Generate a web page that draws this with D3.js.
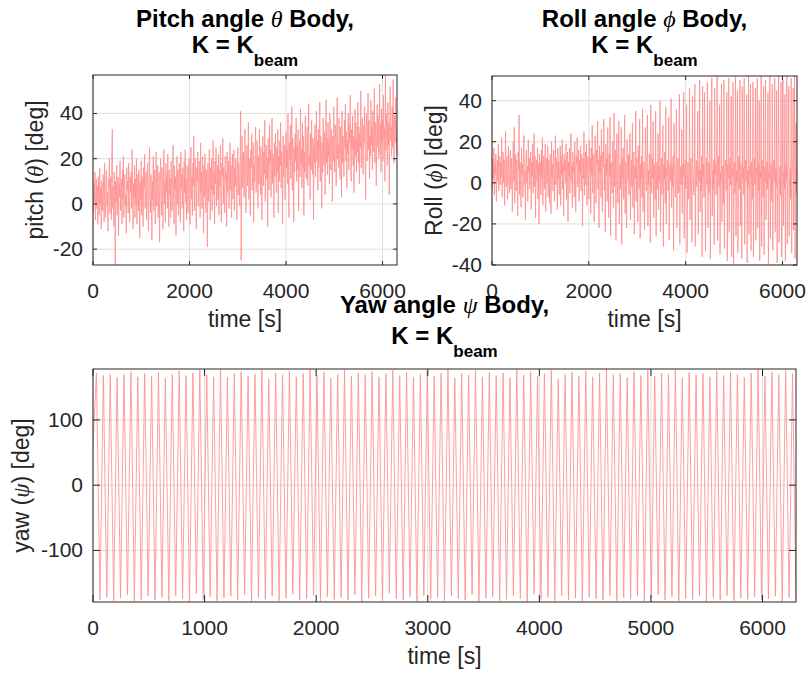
<!DOCTYPE html>
<html>
<head>
<meta charset="utf-8">
<script src="https://cdn.jsdelivr.net/npm/d3@7"></script>
<style>
    body { margin: 0; background: #fff; }
    svg text { font-family: "Liberation Sans", Arial, Helvetica, sans-serif; }
    .tick-label { font-size: 21px; fill: #262626; }
    .axis-label { font-size: 23px; fill: #262626; }
    .chart-title { font-size: 24px; font-weight: bold; fill: #000; }
    .greek { font-family: "Liberation Serif", "DejaVu Serif", serif; font-style: italic; font-weight: normal; }
</style>
</head>
<body>
<div id="chart-area"></div>
<script>

// ======= Data =======//
// every series is sampled evenly from 0 s to timeEnd
var timeEnd = 6300;

var pitchValues = [
    5, -4, 9, 1, 14, -7, 6, 11, -2, 8, -9, 12, 3, -5, 16, 0, 7, -11, 10, 4,
    -3, 13, 6, -8, 18, 2, -6, 9, 15, -1, 5, -12, 11, 7, 20, -4, 3, 12, -7, 22,
    33, -2, 8, -10, 14, 4, -27, 10, 1, 17, -5, 6, 12, -14, 9, 3, 19, -3, 7, 11,
    -9, 15, 2, 21, -6, 8, 13, -1, 4, -13, 16, 6, 10, -4, 18, 1, -8, 12, 5, 14,
    -2, 24, 7, -11, 9, 3, 17, -6, 11, 0, 20, -9, 6, 13, -3, 15, 8, -15, 10, 2,
    19, -5, 12, 4, -10, 16, 7, 22, -2, 9, 14, -7, 5, 18, 1, -12, 11, 25, 3, -4,
    13, 8, -16, 10, 2, 21, -3, 15, 6, -9, 12, 23, -1, 7, 17, -6, 4, 14, -17, 9,
    20, 3, -5, 16, 8, -11, 12, 24, 0, 10, -8, 18, 5, 13, -2, 22, 7, -10, 15, 4,
    11, -6, 19, 9, -3, 14, 26, 2, -9, 17, 6, 12, -14, 8, 21, 0, 15, -5, 10, 18,
    3, -8, 23, 7, 13, -2, 16, 10, -12, 19, 5, 24, 1, 11, -7, 17, 9, -4, 14, 20,
    6, -9, 15, 25, 2, 12, -5, 18, 8, 30, -3, 13, 20, 4, -11, 16, 10, 23, -1, 7,
    19, 11, -6, 27, 5, 14, -2, 21, 9, -13, 17, 3, 22, 12, -4, 15, 8, -19, 18, 10,
    1, 24, 13, -7, 16, 6, 20, -3, 11, 28, 4, 14, -9, 19, 9, 25, -1, 12, 17, 2,
    22, -5, 15, 8, 26, 3, -8, 18, 12, 29, 0, 16, 7, -4, 21, 10, 14, -10, 23, 5,
    13, 19, -2, 11, 27, 6, 17, -6, 14, 22, 2, 9, 24, -3, 16, 8, 20, 11, -7, 15,
    25, 4, 18, 10, -1, 21, 41, -25, 12, 30, 7, 15, 23, 3, 19, 33, 9, -4, 17, 26,
    8, 14, 36, 2, 20, 11, -5, 24, 16, 31, 6, 13, 27, -8, 18, 10, 22, 34, 5, 15,
    28, 12, -2, 21, 9, 33, 17, 4, 25, 14, -7, 19, 30, 8, 23, 13, 37, 1, 16, 26,
    11, 20, -10, 29, 15, 6, 35, 18, 24, 3, 13, 38, 9, 22, 16, -6, 27, 12, 31, 19,
    5, 25, 14, 33, -4, 21, 10, 28, 17, 36, 7, 23, 15, -9, 30, 12, 19, 26, 2, 18,
    32, 16, 24, 9, 40, 13, -6, 27, 20, 35, 11, 22, 43, 6, 29, 17, -8, 25, 14, 31,
    19, 38, 10, 26, 15, 33, -3, 21, 28, 12, 42, 18, 24, 7, 36, 16, 30, -5, 23, 14,
    39, 20, 11, 27, 34, 8, 25, 44, 17, 22, 2, 31, 15, 37, 21, 13, 29, -7, 26, 18,
    35, 12, 24, 41, 19, 28, 6, 33, 16, 23, 45, 10, 30, 20, -2, 27, 14, 38, 22, 17,
    32, 4, 25, 46, 18, 29, 13, 36, 21, 27, 9, 40, 24, 15, 33, 26, 1, 30, 19, 43,
    22, 14, 35, 27, 8, 31, 47, 20, 26, 16, 38, 23, 11, 34, 28, 3, 41, 18, 30, 24,
    12, 37, 25, 44, 19, 32, 7, 28, 22, 40, 15, 35, 27, 48, 20, 10, 33, 24, 39, 17,
    30, 5, 26, 42, 21, 36, 14, 29, 23, 45, 18, 34, 9, 31, 25, 50, 16, 28, 38, 20,
    13, 35, 27, 43, 22, 2, 32, 40, 19, 29, 49, 24, 37, 11, 30, 21, 46, 26, 34, 15,
    41, 23, 31, 51, 18, 36, 28, 8, 33, 44, 25, 39, 20, 30, 53, 22, 35, 14, 42, 27,
    37, 19, 48, 29, 33, 10, 57, 24, 40, 31, 17, 45, 26, 36, 4, 38, 52, 28, 34, 21,
    43, 25, 55, 30, 18, 39, 27, 47, 33, 22, 36
];

var rollValues = [
    8, -3, 12, 2, 17, -6, 9, 4, 14, -9, 6, 11, 1, 19, -4, 7, 13, -1, 10, 3,
    22, -7, 5, 15, 0, 11, -11, 8, 25, -2, 6, 13, -8, 4, 18, 2, -5, 10, 16, -3,
    12, 5, -14, 9, 20, 1, 27, -10, 7, 14, -4, 11, 3, -16, 15, 6, 33, -6, 10, 2,
    -12, 17, 4, 9, -7, 13, 23, -1, 6, -18, 11, 16, 0, 8, -9, 21, 5, 12, -3, 7,
    15, -13, 10, 3, 19, -5, 8, 24, -2, 13, -17, 6, 11, 1, 17, -8, 9, -20, 14, 4,
    10, -6, 16, 2, 22, -11, 7, 13, -3, 9, 19, -14, 5, 12, 0, 18, -7, 11, 4, -10,
    14, 6, -15, 20, 3, 9, -4, 16, 11, -9, 7, 23, -1, 12, 5, -13, 17, 2, 10, -6,
    8, 18, -11, 13, 4, 21, -3, 9, -16, 14, 6, 11, 0, 19, -8, 7, 15, -19, 10, 3,
    17, -5, 12, 24, 1, 8, -12, 15, 5, 10, -7, 20, 3, -14, 13, 9, 22, -2, 6, 16,
    -9, 11, 4, 18, -4, 14, 7, -21, 12, 2, 25, -6, 9, 15, -1, 19, -11, 8, 13, 5,
    -8, 21, 6, 12, -15, 17, 3, 28, -5, 10, 14, -19, 7, 23, 1, -10, 16, 9, 30, -3,
    11, -22, 18, 5, 13, -7, 26, 2, -14, 15, 8, 31, -4, 9, -24, 19, 4, 12, -9, 27,
    6, -17, 14, 3, 32, -26, 10, 7, -5, 20, 1, -12, 34, -2, 11, 16, -28, 8, 24, 4,
    -10, 13, 30, -20, 5, 9, -3, 27, -30, 12, 2, 17, -8, 6, 33, -15, 10, 4, -22, 21,
    7, 1, 14, -6, 9, 24, -18, 3, 11, -2, 29, -12, 6, 15, -25, 8, 2, 35, -9, 12,
    4, -19, 18, 7, -3, 31, -27, 9, 2, 13, -7, 36, -14, 5, 10, -23, 1, 27, 8, -4,
    11, 33, -21, 6, -1, 14, 3, -29, 38, 7, -5, 12, 2, 30, -17, 9, 4, -8, 35, -26,
    5, 10, -3, 24, -13, 8, 1, 40, -24, 6, 12, -6, 3, 28, -31, 9, 2, 15, -10, 37,
    -20, 7, 4, 11, -4, 32, -28, 5, 9, 1, 41, -12, 8, -2, 13, -33, 29, 6, 3, -7,
    10, 36, -22, 4, 12, -5, 2, 43, -30, 8, 5, -1, 26, -15, 9, 3, 44, -27, 6, 11,
    -3, 7, 38, -34, 4, 10, -8, 2, 46, -18, 5, 12, 1, -29, 42, 6, 3, -6, 9, 48,
    -31, 5, 11, -2, 4, 35, -25, 8, 1, 50, -14, 6, -4, 13, -36, 47, 3, 9, -7, 44,
    2, -33, 7, 12, -1, 49, -22, 5, 10, -5, 40, -37, 3, 8, 51, -16, 6, -3, 11, -30,
    46, 4, 9, -6, 2, 52, -28, 7, 13, -2, 38, -35, 5, 1, 48, -19, 8, 4, -10, 50,
    -32, 6, 11, 3, -4, 44, -38, 9, 2, 51, -24, 5, 12, -1, 42, -36, 7, 3, 49, -40,
    4, 10, -5, 52, -26, 6, 1, 45, -34, 8, 13, -3, 50, -21, 5, 9, -37, 47, 2, 7,
    -6, 51, -30, 4, 11, 1, 43, -39, 6, -2, 52, -25, 8, 3, 48, -33, 10, 5, -8, 49,
    -36, 3, 12, -1, 46, -28, 7, 4, 51, -22, 9, -4, 40, -38, 6, 2, 52, -31, 11, 5,
    -7, 47, -35, 8, 1, 50, -18, 4, 10, -3, 44, -40, 6, 2, 52, -27, 9, 5, -9, 48,
    -33, 3, 11, 1, 51, -24, 7, -2, 45, -39, 5, 10, 52, -29, 4, 8, -6, 49, -36, 2,
    12, 50, -21, 6, -3, 43, -38, 9, 1, 52, -30, 5, 11, 47, -26, 3, 7, -8, 51, -34,
    4, 10, 46, -23, 6, 52, -37, 2, 29, -5, 8
];

var yawValues = [
    60, 172, -176, 168, -171, 170, -177, 165, -173, 169, -168, 174, -178, 166, -175, 171, -170, 167, -176, 173,
    -172, 164, -177, 170, -169, 175, -174, 168, -178, 172, -166, 177, -175, 169, -171, 166, -177, 178, -173, 165,
    -170, 171, -176, 174, -168, 167, -179, 170, -172, 176, -175, 163, -170, 172, -177, 169, -173, 175, -167, 166,
    -176, 171, -174, 178, -169, 168, -178, 173, -171, 164, -175, 170, -172, 177, -176, 167, -168, 172, -179, 169,
    -173, 174, -170, 166, -177, 171, -165, 176, -174, 168, -176, 173, -171, 165, -178, 170, -169, 175, -175, 167,
    -172, 172, -177, 178, -170, 164, -174, 171, -176, 169, -168, 176, -178, 166, -173, 173, -171, 168, -177, 172,
    -175, 165, -170, 177, -174, 169, -178, 174, -167, 167, -175, 171, -172, 176, -177, 163, -169, 170, -176, 173,
    -173, 168, -178, 175, -171, 166, -174, 172, -176, 178, -169, 169, -177, 171, -172, 165, -175, 174, -170, 168,
    -178, 176, -173, 167, -168, 172, -176, 170, -171, 177, -177, 164, -174, 173, -175, 169, -170, 171, -178, 166,
    -172, 175, -176, 168, -169, 174, -177, 170, -173, 165, -175, 172, -171, 178, -176, 167, -174, 173, -170, 169,
    -178, 176, -172, 171, -175
];

var pitchTicksX = [0, 2000, 4000, 6000];
var pitchTicksY = [-20, 0, 20, 40];
var rollTicksX = [0, 2000, 4000, 6000];
var rollTicksY = [-40, -20, 0, 20, 40];
var yawTicksX = [0, 1000, 2000, 3000, 4000, 5000, 6000];
var yawTicksY = [-100, 0, 100];


/*
 * AngleVis - one MATLAB-style subplot
 * @param _svg      -- the svg selection to draw in
 * @param _values   -- evenly sampled angle values
 * @param _opts     -- box, ticks and texts of the subplot
 */
AngleVis = function(_svg, _values, _opts){
    this.svg = _svg;
    this.values = _values;
    this.opts = _opts;

    this.initVis();
}

AngleVis.prototype.initVis = function(){
    var vis = this;
    var o = vis.opts;

    vis.width = o.right - o.left;
    vis.height = o.bottom - o.top;

    vis.g = vis.svg.append("g")
        .attr("transform", "translate(" + o.left + "," + o.top + ")");

    // Scales
    vis.x = d3.scaleLinear()
        .domain([0, timeEnd])
        .range([0, vis.width]);

    vis.y = d3.scaleLinear()
        .domain(d3.extent(vis.values))
        .range([vis.height, 0]);

    vis.step = timeEnd / (vis.values.length - 1);

    // grid
    vis.g.selectAll(".grid-x").data(o.xTicks).enter()
        .append("line")
        .attr("class", "grid-x")
        .attr("x1", function(d){ return vis.x(d); })
        .attr("x2", function(d){ return vis.x(d); })
        .attr("y1", 0)
        .attr("y2", vis.height)
        .attr("stroke", "#dfdfdf")
        .attr("stroke-width", 1);

    vis.g.selectAll(".grid-y").data(o.yTicks).enter()
        .append("line")
        .attr("class", "grid-y")
        .attr("x1", 0)
        .attr("x2", vis.width)
        .attr("y1", function(d){ return vis.y(d); })
        .attr("y2", function(d){ return vis.y(d); })
        .attr("stroke", "#dfdfdf")
        .attr("stroke-width", 1);

    // clip
    vis.svg.append("clipPath")
        .attr("id", "clip-" + o.id)
        .append("rect")
        .attr("width", vis.width)
        .attr("height", vis.height);

    //======= Define path ======//
    vis.valueLine = d3.line()
        .x(function(d, i){ return vis.x(i * vis.step); })
        .y(function(d){ return vis.y(d); });

    vis.g.append("path")
        .datum(vis.values)
        .attr("clip-path", "url(#clip-" + o.id + ")")
        .attr("fill", "none")
        .attr("stroke", "#ff8f8f")
        .attr("stroke-opacity", o.lineOpacity)
        .attr("stroke-width", 1)
        .attr("d", vis.valueLine);

    // box
    vis.g.append("rect")
        .attr("width", vis.width)
        .attr("height", vis.height)
        .attr("fill", "none")
        .attr("stroke", "#262626")
        .attr("stroke-width", 1);

    // ticks on all four sides, pointing in
    var tl = o.tickLen;
    o.xTicks.forEach(function(d){
        vis.g.append("line").attr("x1", vis.x(d)).attr("x2", vis.x(d))
            .attr("y1", vis.height).attr("y2", vis.height - tl).attr("stroke", "#262626");
        vis.g.append("line").attr("x1", vis.x(d)).attr("x2", vis.x(d))
            .attr("y1", 0).attr("y2", tl).attr("stroke", "#262626");
    });
    o.yTicks.forEach(function(d){
        vis.g.append("line").attr("x1", 0).attr("x2", tl)
            .attr("y1", vis.y(d)).attr("y2", vis.y(d)).attr("stroke", "#262626");
        vis.g.append("line").attr("x1", vis.width).attr("x2", vis.width - tl)
            .attr("y1", vis.y(d)).attr("y2", vis.y(d)).attr("stroke", "#262626");
    });

    // tick labels
    vis.g.selectAll(".x-tick").data(o.xTicks).enter()
        .append("text")
        .attr("class", "tick-label")
        .attr("x", function(d){ return vis.x(d); })
        .attr("y", vis.height + 33)
        .attr("text-anchor", "middle")
        .text(function(d){ return String(d); });

    vis.g.selectAll(".y-tick").data(o.yTicks).enter()
        .append("text")
        .attr("class", "tick-label")
        .attr("x", -10)
        .attr("y", function(d){ return vis.y(d) + 7; })
        .attr("text-anchor", "end")
        .text(function(d){ return String(d); });

    // axis labels
    vis.g.append("text")
        .attr("class", "axis-label")
        .attr("x", vis.width / 2)
        .attr("y", vis.height + o.xLabelGap)
        .attr("text-anchor", "middle")
        .text("time [s]");

    var yl = vis.g.append("text")
        .attr("class", "axis-label")
        .attr("text-anchor", "middle")
        .attr("transform", "translate(" + (-o.yLabelGap) + "," + (vis.height / 2) + ") rotate(-90)");
    yl.append("tspan").text(o.yLabel + " (");
    yl.append("tspan").attr("class", "greek").text(o.symbol);
    yl.append("tspan").text(") [deg]");

    // title
    var t1 = vis.g.append("text")
        .attr("class", "chart-title")
        .attr("x", vis.width / 2)
        .attr("y", -o.titleGap - o.titleLine)
        .attr("text-anchor", "middle");
    t1.append("tspan").text(o.title + " angle ");
    t1.append("tspan").attr("class", "greek").text(o.symbol);
    t1.append("tspan").text(" Body,");

    var t2 = vis.g.append("text")
        .attr("class", "chart-title")
        .attr("x", vis.width / 2)
        .attr("y", -o.titleGap)
        .attr("text-anchor", "middle");
    t2.append("tspan").text("K = K");
    t2.append("tspan").attr("dy", 13).style("font-size", "17px").text("beam");
}


var svg = d3.select("#chart-area").append("svg")
    .attr("width", 806)
    .attr("height", 673);

var pitchVis = new AngleVis(svg, pitchValues, {
    id: "pitch", left: 93, right: 397, top: 75, bottom: 265,
    xTicks: pitchTicksX, yTicks: pitchTicksY, tickLen: 4, lineOpacity: 0.8,
    xLabelGap: 62, yLabelGap: 50, titleGap: 22, titleLine: 26,
    yLabel: "pitch", symbol: "\u03B8", title: "Pitch"
});

var rollVis = new AngleVis(svg, rollValues, {
    id: "roll", left: 492, right: 797, top: 76, bottom: 265,
    xTicks: rollTicksX, yTicks: rollTicksY, tickLen: 4, lineOpacity: 0.8,
    xLabelGap: 62, yLabelGap: 50, titleGap: 23, titleLine: 26,
    yLabel: "Roll", symbol: "\u03D5", title: "Roll"
});

var yawVis = new AngleVis(svg, yawValues, {
    id: "yaw", left: 93, right: 796, top: 369, bottom: 602,
    xTicks: yawTicksX, yTicks: yawTicksY, tickLen: 7, lineOpacity: 0.85,
    xLabelGap: 62, yLabelGap: 64, titleGap: 25, titleLine: 31,
    yLabel: "yaw", symbol: "\u03C8", title: "Yaw"
});

</script>
</body>
</html>
